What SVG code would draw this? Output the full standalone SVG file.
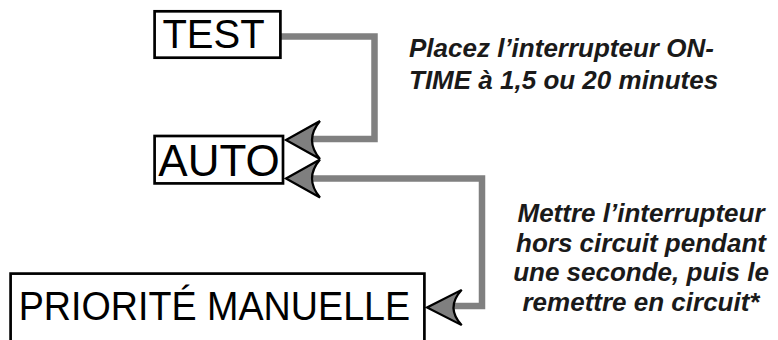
<svg xmlns="http://www.w3.org/2000/svg" xmlns:xlink="http://www.w3.org/1999/xlink" width="778" height="340" viewBox="0 0 778 340">
<style>
.box{fill:#fff;stroke:#000;stroke-width:2.7}
.lbl{font-family:"Liberation Sans",Arial,Helvetica,sans-serif;fill:#000}
.note{font-family:"Liberation Sans",Arial,Helvetica,sans-serif;font-weight:bold;font-style:italic;font-size:26px;fill:#1a1a1a}
.wire{fill:none;stroke:#808080;stroke-width:6.5;stroke-linejoin:miter}
.head{fill:#7f7f7f;stroke:#000;stroke-width:2.2;stroke-linejoin:miter}
</style>
<defs>
<path id="arrowhead" d="M0,0 L34,-19 Q18,0 34,19 Z"/>
</defs>
<rect width="778" height="340" fill="#fff"/>
<g id="connectors">
<path class="wire" d="M281,36.5 H374.5 V139 H310"/>
<path class="wire" d="M310,178.5 H482 V306 H452"/>
<use xlink:href="#arrowhead" class="head" transform="translate(286,140)"/>
<use xlink:href="#arrowhead" class="head" transform="translate(286,178.5)"/>
<use xlink:href="#arrowhead" class="head" transform="translate(427,307.5) scale(1.02,0.93)"/>
</g>
<g id="test">
<rect class="box" x="154.6" y="11.3" width="125.8" height="46.4"/>
<text class="lbl" x="162.4" y="48.3" font-size="40">TEST</text>
</g>
<g id="auto">
<rect class="box" x="154.6" y="136" width="128.4" height="47.4"/>
<text class="lbl" x="158.3" y="175.7" font-size="44">AUTO</text>
</g>
<g id="priorite">
<rect class="box" x="10.6" y="273.6" width="413.8" height="90"/>
<text class="lbl" x="18.7" y="320" font-size="40" textLength="391.5" lengthAdjust="spacingAndGlyphs">PRIORITÉ MANUELLE</text>
</g>
<g id="note1">
<text class="note" x="409" y="57.3" font-size="26.5">Placez l’interrupteur ON-</text>
<text class="note" x="409" y="89.3" font-size="26.5">TIME à 1,5 ou 20 minutes</text>
</g>
<g id="note2">
<text class="note" text-anchor="middle" x="641" y="222">Mettre l’interrupteur</text>
<text class="note" text-anchor="middle" x="641" y="251.5">hors circuit pendant</text>
<text class="note" text-anchor="middle" x="641" y="281">une seconde, puis le</text>
<text class="note" text-anchor="middle" x="641" y="310.5">remettre en circuit*</text>
</g>
</svg>
